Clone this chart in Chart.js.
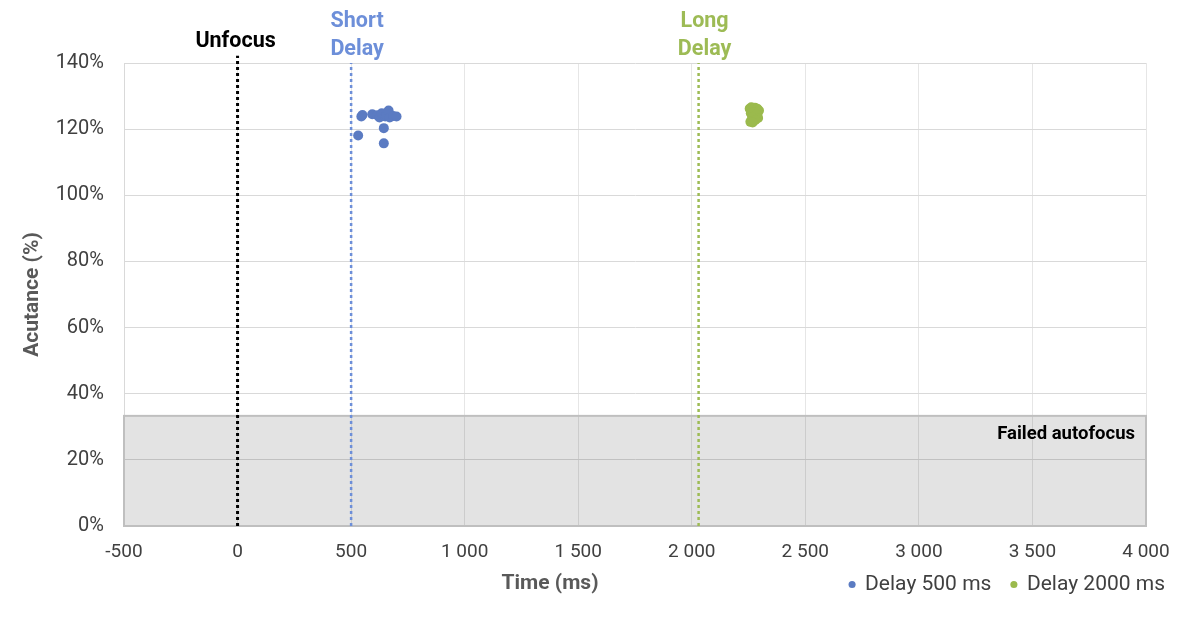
<!DOCTYPE html>
<html>
<head>
<meta charset="utf-8">
<script src="https://cdn.jsdelivr.net/npm/chart.js@4/dist/chart.umd.min.js"></script>
<style>
  html, body { margin: 0; padding: 0; background: #fff; }
  #wrap { width: 1200px; height: 624px; }
</style>
</head>
<body>
<div id="wrap"><canvas id="myChart" width="1200" height="624"></canvas></div>
<script>
// Delay 500 ms series (time in ms, acutance in %)
let shortX = [531, 545, 550, 593, 615, 625, 635, 644, 644, 650, 655, 665, 670, 685, 700];
let shortY = [118.1, 123.8, 124.3, 124.5, 124.2, 123.5, 124.8, 120.3, 115.7, 123.8, 124.3, 125.6, 123.5, 124.0, 123.8];

// Delay 2000 ms series
let longX = [2255, 2262, 2270, 2278, 2288, 2296, 2260, 2272, 2284, 2292, 2266, 2280, 2258, 2268];
let longY = [126.2, 126.6, 126.0, 126.5, 126.2, 125.6, 124.8, 125.0, 124.4, 123.4, 123.6, 122.8, 122.2, 122.0];

// marker lines: unfocus, short delay, long delay
let markerX = [0, 500, 2030];
let markerTop = [142.2, 140, 140];
let markerText = [['Unfocus'], ['Short', 'Delay'], ['Long', 'Delay']];
let markerColor = ['#000000', '#6d8fd9', '#9dbb55'];

let failedLimit = 33.3;
let xTicks = [-500, 0, 500, 1000, 1500, 2000, 2500, 3000, 3500, 4000];
let yTicks = [0, 20, 40, 60, 80, 100, 120, 140];

function fmtThousands(v) {
    return String(v).replace(/\B(?=(\d{3})+(?!\d))/g, ' ');
}

let ctx = document.getElementById('myChart').getContext('2d');

let datasets = [
    {
        label: 'Delay 500 ms',
        data: shortX.map((x, i) => ({ x: x, y: shortY[i] })),
        backgroundColor: '#5b7bc2',
        borderColor: '#5b7bc2',
        pointRadius: 5,
        pointHoverRadius: 5,
        borderWidth: 0
    },
    {
        label: 'Delay 2000 ms',
        data: longX.map((x, i) => ({ x: x, y: longY[i] })),
        backgroundColor: '#9bba4d',
        borderColor: '#9bba4d',
        pointRadius: 5,
        pointHoverRadius: 5,
        borderWidth: 0
    }
];

markerX.forEach((mx, i) => {
    datasets.push({
        label: markerText[i].join(' '),
        data: [{ x: mx, y: 0 }, { x: mx, y: markerTop[i] }],
        showLine: true,
        borderColor: markerColor[i],
        borderWidth: i === 0 ? 3 : 2.5,
        borderDash: [3, 3],
        pointRadius: 0,
        clip: false
    });
});

// grey band + text annotations, placed through the scales
const annotations = {
    id: 'annotations',
    afterLayout(chart) {
        // pull the legend row up so it sits level with the x axis title
        const lg = chart.legend;
        const shift = lg.top - (chart.scales.x.bottom - 12);
        lg.top -= shift;
        lg.bottom -= shift;
    },
    beforeDatasetsDraw(chart) {
        const c = chart.ctx;
        const xs = chart.scales.x, ys = chart.scales.y;
        const left = xs.getPixelForValue(xs.min), right = xs.getPixelForValue(xs.max);
        const top = ys.getPixelForValue(failedLimit), bottom = ys.getPixelForValue(0);
        c.save();
        c.fillStyle = 'rgba(0,0,0,0.11)';
        c.fillRect(left, top, right - left, bottom - top);
        c.strokeStyle = '#bfbfbf';
        c.lineWidth = 2;
        c.strokeRect(left, top, right - left, bottom - top);
        c.fillStyle = '#000';
        c.font = 'bold 18.5px Roboto';
        c.textAlign = 'right';
        c.textBaseline = 'middle';
        c.fillText('Failed autofocus', right - 11, top + 19);
        c.restore();
    },
    afterDraw(chart) {
        const c = chart.ctx;
        const xs = chart.scales.x;
        c.save();
        c.font = 'bold 21.5px Roboto';
        c.textAlign = 'center';
        c.textBaseline = 'middle';
        markerX.forEach((mx, i) => {
            let px = xs.getPixelForValue(mx);
            let lines = markerText[i];
            c.fillStyle = markerColor[i];
            if (lines.length === 1) {
                c.fillText(lines[0], px - 2, 42);
            } else {
                c.fillText(lines[0], px + 6, 22);
                c.fillText(lines[1], px + 6, 50);
            }
        });
        c.fillStyle = '#595959';
        c.font = 'bold 21px Roboto';
        c.fillText('Time (ms)', 550, 584);
        c.restore();
    }
};

let myChart = new Chart(ctx, {
    type: 'scatter',
    data: { datasets: datasets },
    options: {
        responsive: false,
        animation: false,
        layout: { padding: { left: 0, right: 15, top: 63, bottom: 7 } },
        scales: {
            x: {
                type: 'linear',
                min: -500,
                max: 4000,
                afterBuildTicks: (s) => { s.ticks = xTicks.map(v => ({ value: v })); },
                afterFit: (s) => { s.height = 40; s.paddingRight = 54; },
                grid: { color: '#e6e6e6', drawTicks: false },
                border: { color: '#d9d9d9' },
                ticks: {
                    padding: 15,
                    color: '#404040',
                    font: { family: 'Roboto', size: 19 },
                    callback: (v) => fmtThousands(v)
                }
            },
            y: {
                min: 0,
                max: 140,
                afterBuildTicks: (s) => { s.ticks = yTicks.map(v => ({ value: v })); },
                afterFit: (s) => { s.width = 124; },
                grid: { color: '#d9d9d9', drawTicks: false },
                border: { color: '#d9d9d9' },
                ticks: {
                    padding: 20,
                    color: '#404040',
                    font: { family: 'Roboto', size: 20 },
                    callback: (v) => v + '%'
                },
                title: {
                    display: true,
                    text: 'Acutance (%)',
                    color: '#595959',
                    font: { family: 'Roboto', size: 21, weight: 'bold' },
                    padding: { top: 20, bottom: 0 }
                }
            }
        },
        plugins: {
            legend: {
                position: 'bottom',
                align: 'end',
                labels: {
                    usePointStyle: true,
                    pointStyle: 'circle',
                    boxWidth: 5,
                    boxHeight: 5,
                    padding: 20,
                    color: '#404040',
                    font: { family: 'Roboto', size: 21 },
                    filter: (item) => item.datasetIndex < 2
                }
            },
            tooltip: { enabled: false }
        }
    },
    plugins: [annotations]
});
</script>
</body>
</html>
